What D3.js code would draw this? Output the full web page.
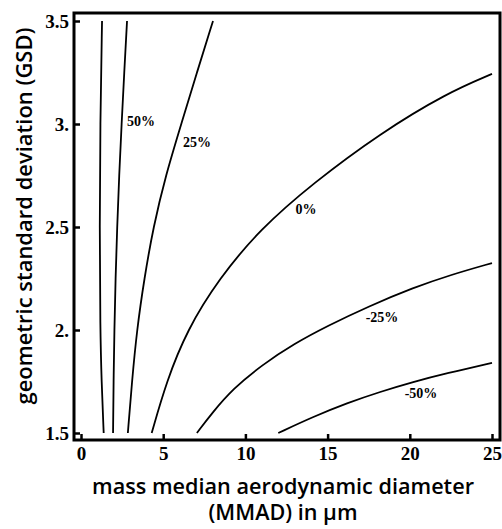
<!DOCTYPE html>
<meta charset="utf-8">
<script src="https://d3js.org/d3.v7.min.js"></script>
<style>
  body { margin: 0; background: #fff; }
</style>
<div id="my_dataviz"></div>

<script>
    // tick values and labels
    const xTickVals = [0, 5, 10, 15, 20, 25];
    const yTickVals = [1.5, 2, 2.5, 3, 3.5];
    const yTickLabels = ["1.5", "2.", "2.5", "3.", "3.5"];

    // contour lines: [MMAD, GSD]
    const c75 = [[1.38, 1.5], [1.25, 1.75], [1.17, 2.0], [1.13, 2.5], [1.17, 3.0], [1.28, 3.5]];
    const c50 = [[1.95, 1.5], [1.98, 1.75], [2.03, 2.0], [2.1, 2.25], [2.2, 2.5], [2.32, 2.75], [2.47, 3.0], [2.63, 3.25], [2.8, 3.5]];
    const c25 = [[2.85, 1.5], [3.1, 1.75], [3.4, 2.0], [3.85, 2.25], [4.4, 2.5], [5.15, 2.75], [6.1, 3.0], [7.05, 3.25], [8.03, 3.5]];
    const c0 = [[4.3, 1.5], [5.2, 1.75], [6.45, 2.0], [8.4, 2.25], [10.9, 2.49], [14.1, 2.712], [18.2, 2.955], [22.25, 3.15], [25, 3.243]];
    const cm25 = [[7.05, 1.5], [8.0, 1.6], [9.25, 1.715], [11.0, 1.83], [13.0, 1.935], [15.0, 2.02], [17.5, 2.115], [20.2, 2.205], [22.5, 2.268], [25, 2.325]];
    const cm50 = [[12.0, 1.5], [14.1, 1.578], [16.2, 1.646], [18.2, 1.70], [20.2, 1.748], [22.25, 1.79], [25, 1.84]];

    // contour labels: text, MMAD, GSD
    const labelText = ["50%", "25%", "0%", "-25%", "-50%"];
    const labelX = [3.65, 7.06, 13.69, 18.31, 20.68];
    const labelY = [3.01, 2.91, 2.587, 2.063, 1.694];

    const W = 502, H = 529;
    const frame = { left: 74, right: 500, top: 13, bottom: 440 };

    const svg = d3.select("#my_dataviz")
        .append("svg")
        .attr("width", W)
        .attr("height", H);

    const x = d3.scaleLinear().domain([0, 25]).range([81, 492]);
    const y = d3.scaleLinear().domain([1.5, 3.5]).range([433, 21]);

    // contour lines
    const line = d3.line()
        .x(d => x(d[0]))
        .y(d => y(d[1]))
        .curve(d3.curveBasis);

    svg.selectAll(".contour")
        .data([c75, c50, c25, c0, cm25, cm50])
        .join("path")
        .attr("class", "contour")
        .attr("d", line)
        .attr("fill", "none")
        .attr("stroke", "#000")
        .attr("stroke-width", 1.8);

    // contour labels
    svg.selectAll(".clabel")
        .data(labelText)
        .join("text")
        .attr("class", "clabel")
        .attr("x", (d, i) => x(labelX[i]))
        .attr("y", (d, i) => y(labelY[i]))
        .attr("text-anchor", "middle")
        .attr("dominant-baseline", "central")
        .attr("font-family", "'Liberation Serif', serif")
        .attr("font-weight", "bold")
        .attr("font-size", "14px")
        .text(d => d);

    // X axis
    const xAxis = svg.append("g")
        .attr("transform", `translate(0, ${frame.bottom})`)
        .call(d3.axisBottom(x).tickValues(xTickVals).tickSize(-6).tickPadding(7).tickFormat(d3.format("d")));
    // Y axis
    const yAxis = svg.append("g")
        .attr("transform", `translate(${frame.left}, 0)`)
        .call(d3.axisLeft(y).tickValues(yTickVals).tickSize(-6).tickPadding(5).tickFormat((d, i) => yTickLabels[i]));

    [xAxis, yAxis].forEach(a => {
        a.select(".domain").remove();
        a.selectAll(".tick line").attr("stroke", "#000").attr("stroke-width", 2.5);
        a.selectAll(".tick text")
            .attr("fill", "#000")
            .attr("font-family", "'Liberation Serif', serif")
            .attr("font-weight", "bold")
            .attr("font-size", "19px");
    });
    yAxis.selectAll(".tick text").attr("dy", "0.34em");

    // frame
    svg.append("rect")
        .attr("x", frame.left)
        .attr("y", frame.top)
        .attr("width", frame.right - frame.left)
        .attr("height", frame.bottom - frame.top)
        .attr("fill", "none")
        .attr("stroke", "#000")
        .attr("stroke-width", 3);

    // axis titles
    const titleFont = "'Open Sans', sans-serif";
    svg.append("text")
        .attr("x", 283)
        .attr("y", 494)
        .attr("text-anchor", "middle")
        .attr("font-family", titleFont)
        .attr("font-weight", 600)
        .attr("font-size", "21px")
        .attr("textLength", 382)
        .attr("lengthAdjust", "spacingAndGlyphs")
        .text("mass median aerodynamic diameter");
    svg.append("text")
        .attr("x", 283)
        .attr("y", 520)
        .attr("text-anchor", "middle")
        .attr("font-family", titleFont)
        .attr("font-weight", 600)
        .attr("font-size", "21px")
        .attr("textLength", 149)
        .attr("lengthAdjust", "spacingAndGlyphs")
        .text("(MMAD) in μm");
    svg.append("text")
        .attr("transform", "translate(32, 216) rotate(-90)")
        .attr("text-anchor", "middle")
        .attr("font-family", titleFont)
        .attr("font-weight", 600)
        .attr("font-size", "21px")
        .attr("textLength", 377)
        .attr("lengthAdjust", "spacingAndGlyphs")
        .text("geometric standard deviation (GSD)");
</script>
